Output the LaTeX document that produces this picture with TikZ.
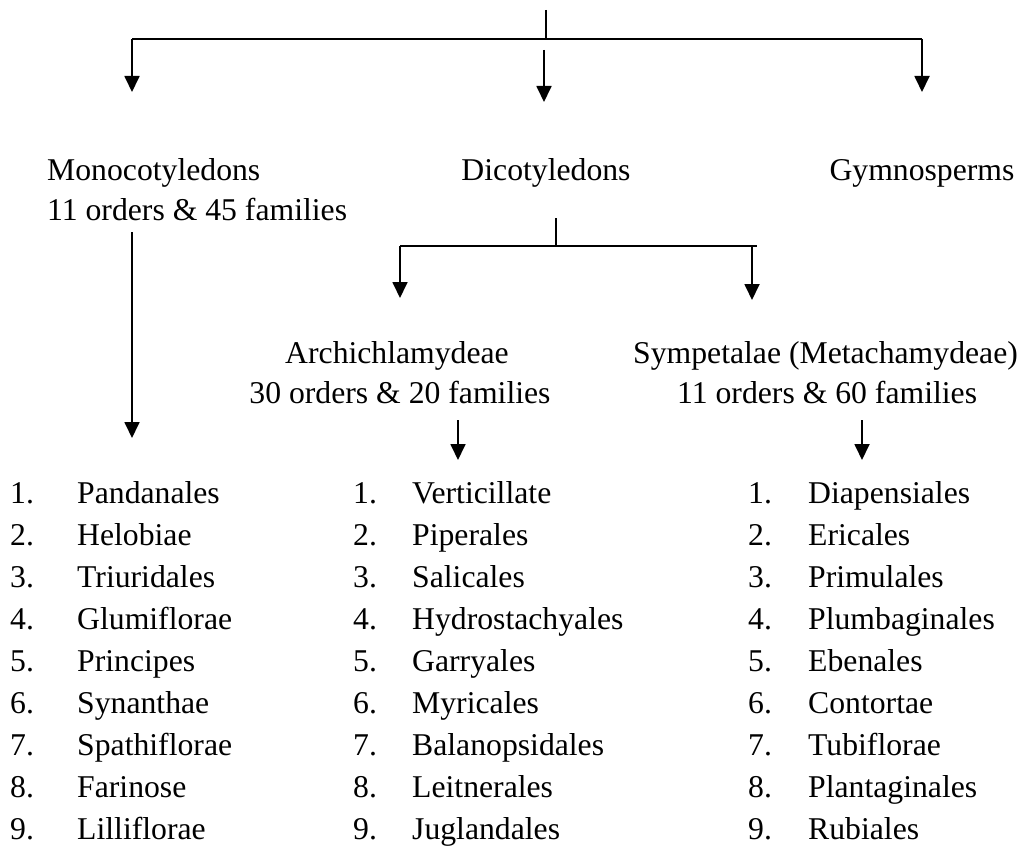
\documentclass[tikz,border=0pt]{standalone}
\usepackage{fontspec}
\setmainfont{Liberation Serif}
\usetikzlibrary{arrows.meta}
\begin{document}
\begin{tikzpicture}[x=1pt,y=-1pt,
  conn/.style={line width=1.8pt},
  arr/.style={line width=1.8pt,-{Triangle[length=16pt,width=15pt]}},
  txt/.style={inner sep=0pt,font=\fontsize{31.7}{38}\selectfont},
]
\useasboundingbox (0,0) rectangle (1023,848);

% headings
\node[txt,anchor=base west] (mono) at (47,181) {Monocotyledons};
\node[txt,anchor=base west] (monoc) at (47,220) {11 orders \& 45 families};
\node[txt,anchor=base] (dico) at (546,181) {Dicotyledons};
\node[txt,anchor=base] (gymn) at (922,181) {Gymnosperms};
\node[txt,anchor=base] (archi) at (397,363) {Archichlamydeae};
\node[txt,anchor=base] (archic) at (400,403) {30 orders \& 20 families};
\node[txt,anchor=base west] (symp) at (633,363) {Sympetalae (Metachamydeae)};
\node[txt,anchor=base west] (sympc) at (677,403) {11 orders \& 60 families};

% lists
\foreach \n/\name [count=\i from 0] in {1/Pandanales,2/Helobiae,3/Triuridales,4/Glumiflorae,5/Principes,6/Synanthae,7/Spathiflorae,8/Farinose,9/Lilliflorae}{
  \node[txt,anchor=base west] (ln\n) at (10,{503+42.1*\i}) {\n.};
  \node[txt,anchor=base west] (lt\n) at (77,{503+42.1*\i}) {\name};
}
\foreach \n/\name [count=\i from 0] in {1/Verticillate,2/Piperales,3/Salicales,4/Hydrostachyales,5/Garryales,6/Myricales,7/Balanopsidales,8/Leitnerales,9/Juglandales}{
  \node[txt,anchor=base west] (mn\n) at (353,{503+42.1*\i}) {\n.};
  \node[txt,anchor=base west] (mt\n) at (412,{503+42.1*\i}) {\name};
}
\foreach \n/\name [count=\i from 0] in {1/Diapensiales,2/Ericales,3/Primulales,4/Plumbaginales,5/Ebenales,6/Contortae,7/Tubiflorae,8/Plantaginales,9/Rubiales}{
  \node[txt,anchor=base west] (rn\n) at (748,{503+42.1*\i}) {\n.};
  \node[txt,anchor=base west] (rt\n) at (808,{503+42.1*\i}) {\name};
}

% connector points
\coordinate (top) at (546,10);
\coordinate (hub) at (546,39);
\coordinate (hl) at (132,39);
\coordinate (hr) at (922,39);
\coordinate (monoT) at (132,92);
\coordinate (gymT) at (922,92);
\coordinate (dicS) at (544,50);
\coordinate (dicT) at (544,102);
\coordinate (monoS) at (132,232);
\coordinate (monoE) at (132,438);
\coordinate (dtop) at (556,218);
\coordinate (dhub) at (556,246);
\coordinate (dl) at (400,246);
\coordinate (dr) at (757,246);
\coordinate (drA) at (752,246);
\coordinate (archT) at (400,298);
\coordinate (sympT) at (752,300);
\coordinate (aS) at (458,420);
\coordinate (aE) at (458,460);
\coordinate (sS) at (862,420);
\coordinate (sE) at (862,460);

\draw[conn] (top) -- (hub);
\draw[conn] (hl) -- (hr);
\draw[arr] (hl) -- (monoT);
\draw[arr] (hr) -- (gymT);
\draw[arr] (dicS) -- (dicT);
\draw[arr] (monoS) -- (monoE);
\draw[conn] (dtop) -- (dhub);
\draw[conn] (dl) -- (dr);
\draw[arr] (dl) -- (archT);
\draw[arr] (drA) -- (sympT);
\draw[arr] (aS) -- (aE);
\draw[arr] (sS) -- (sE);
\end{tikzpicture}
\end{document}
